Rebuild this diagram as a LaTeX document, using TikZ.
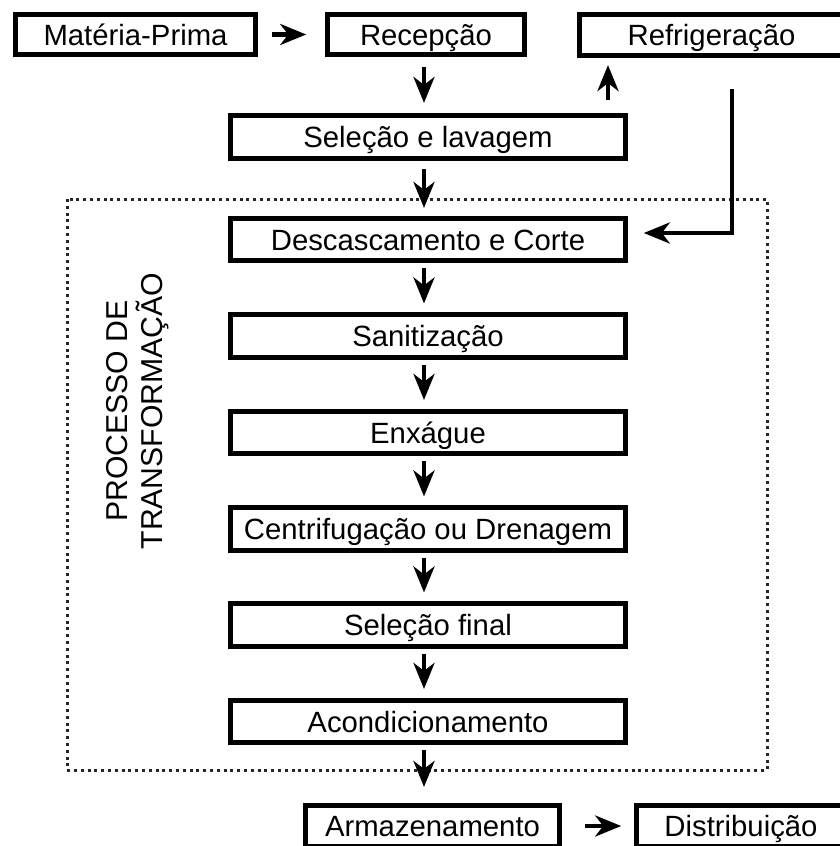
\documentclass[tikz,border=0pt]{standalone}
\usepackage{fontspec}
\setmainfont{Liberation Sans}
\usetikzlibrary{arrows.meta,calc}
\begin{document}
\begin{tikzpicture}[x=1pt,y=1pt,
  box/.style={draw, line width=4.6pt, inner sep=0pt, text height=21pt, text depth=0pt,
    font=\fontsize{29.3}{34}\selectfont},
  mainbox/.style={box, minimum width=395pt, minimum height=42.5pt},
  arr/.style={line width=4.4pt, -{Stealth[length=26pt,width=21pt,inset=8pt]}},
  lbl/.style={font=\fontsize{30.2}{36}\selectfont, inner sep=0pt, rotate=90, anchor=base},
  dotbox/.style={line width=3pt, black!85, dash pattern=on 3pt off 3.8pt}]
\useasboundingbox (0,0) rectangle (840,-846);
\clip (0,0) rectangle (840,-846);

% dotted frame
\draw[dotbox] (67,-199) rectangle (767,-770);

% top row
\node[box, minimum width=240pt, minimum height=40.5pt] (mp) at (135.5,-34.5) {Matéria-Prima};
\node[box, minimum width=197pt, minimum height=40.5pt] (rec) at (426,-34.5) {Recepção};
\node[box, minimum width=264pt, minimum height=41.5pt] (ref) at (711.5,-35) {Refrigeração};

% main column
\node[mainbox, minimum height=43.5pt] (sel) at (428,-137) {Seleção e lavagem};
\node[mainbox] (desc) at (428,-239.5) {Descascamento e Corte};
\node[mainbox] (san) at (428,-336) {Sanitização};
\node[mainbox] (enx) at (428,-432.5) {Enxágue};
\node[mainbox] (cen) at (428,-529) {Centrifugação ou Drenagem};
\node[mainbox] (sfin) at (428,-625) {Seleção final};
\node[mainbox] (aco) at (428,-721.5) {Acondicionamento};

% bottom row
\node[box, minimum width=254pt, minimum height=41.5pt] (arm) at (432.5,-826) {Armazenamento};
\node[box, minimum width=209pt, minimum height=41.5pt] (dist) at (741,-826) {Distribuição};

% vertical label
\node[lbl] (l1) at (127,-411) {PROCESSO DE};
\node[lbl] (l2) at (162,-411) {TRANSFORMAÇÃO};

% helper coordinates
\coordinate (ax) at (424,0);
\coordinate (up) at (608,0);
\coordinate (rx) at (732,0);

% arrows
\draw[arr, shorten <=14pt, shorten >=19pt] (mp.east) -- (rec.west);
\draw[arr, shorten <=10pt, shorten >=10pt] (rec.south -| ax) -- (sel.north -| ax);
\draw[arr, shorten <=8pt, shorten >=8pt] (sel.south -| ax) -- (desc.north -| ax);
\draw[arr, shorten <=5pt, shorten >=9pt] (desc.south -| ax) -- (san.north -| ax);
\draw[arr, shorten <=5pt, shorten >=9pt] (san.south -| ax) -- (enx.north -| ax);
\draw[arr, shorten <=5pt, shorten >=9pt] (enx.south -| ax) -- (cen.north -| ax);
\draw[arr, shorten <=5pt, shorten >=9pt] (cen.south -| ax) -- (sfin.north -| ax);
\draw[arr, shorten <=5pt, shorten >=9pt] (sfin.south -| ax) -- (aco.north -| ax);
\draw[arr, shorten <=5pt, shorten >=16pt] (aco.south -| ax) -- (arm.north -| ax);
\draw[arr, shorten <=23pt, shorten >=13pt] (arm.east) -- (dist.west);
\draw[arr, shorten <=13pt, shorten >=7pt] (sel.north -| up) -- (ref.south -| up);
\draw[arr, line width=4.6pt, shorten <=31pt, shorten >=16pt] (ref.south -| rx) |- ([yshift=6.5pt]desc.east);
\end{tikzpicture}
\end{document}
